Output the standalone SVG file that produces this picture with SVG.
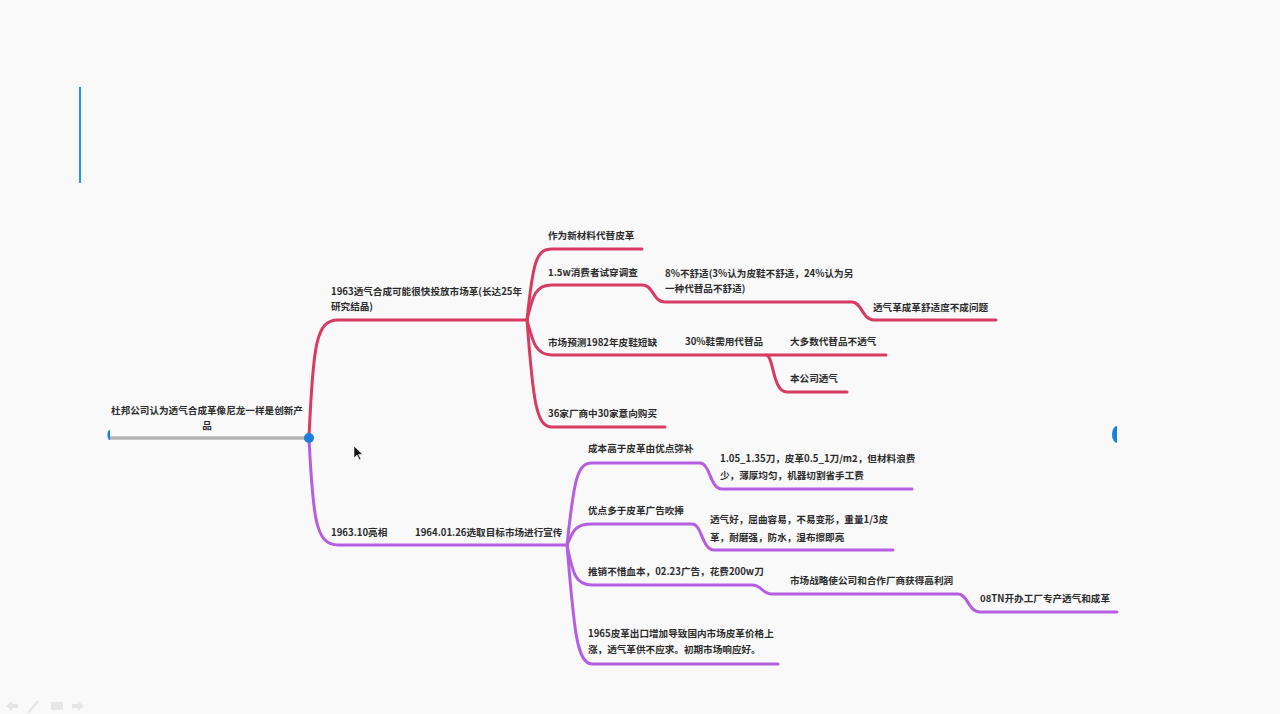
<svg xmlns="http://www.w3.org/2000/svg" width="1280" height="714" viewBox="0 0 1280 714">
<style>
text{font-family:"Noto Sans CJK SC","Noto Sans",sans-serif;font-size:9.6px;fill:#2b2b2b;font-weight:600}
.r{fill:none;stroke:#d73b62;stroke-width:3;stroke-linecap:round;stroke-linejoin:round}
.p{fill:none;stroke:#b55ee2;stroke-width:3;stroke-linecap:round;stroke-linejoin:round}
.g{fill:none;stroke:#b4b4b4;stroke-width:3.5}
.ic{fill:#e6e6e6}
</style>
<rect width="1280" height="714" fill="#f9f9f9"/>
<line x1="80" y1="87" x2="80" y2="183" stroke="#1a9be0" stroke-width="2"/>
<g id="connectors">
<path class="g" d="M110,438 L309,438"/>
<path class="r" d="M309,438 C313,345 316,320 338,320 L527,320"/>
<path class="r" d="M527,320 C533,262 536,249 552,249 L642,249"/>
<path class="r" d="M527,320 C533,294 536,285 552,285 L643,285 C653,285 653,302 665,302 L852,302 C862,302 862,320 874,320 L996,320"/>
<path class="r" d="M527,320 C533,343 536,355 552,355 L886,355"/>
<path class="r" d="M766,355 C774,355 772,392 787,392 L847,392"/>
<path class="r" d="M527,320 C533,400 536,427 552,427 L665,427"/>
<path class="p" d="M309,438 C313,520 316,545 338,545 L567,545"/>
<path class="p" d="M567,545 C574,480 577,463 592,463 L700,463 C710,463 710,489 722,489 L912,489"/>
<path class="p" d="M567,545 C573,530 576,524 592,524 L692,524 C702,524 702,550 714,550 L893,550"/>
<path class="p" d="M567,545 C573,575 576,585 592,585 L752,585 C762,585 762,594 772,594 L958,594 C968,594 968,612 980,612 L1117,612"/>
<path class="p" d="M567,545 C574,630 577,664 592,664 L778,664"/>
</g>
<g id="root">
<text x="207" y="414" text-anchor="middle">杜邦公司认为透气合成革像尼龙一样是创新产</text>
<text x="207" y="429" text-anchor="middle">品</text>
<circle cx="309" cy="438" r="5" fill="#1a7fe0"/>
<path d="M110,430 A2.5,5 0 0 0 110,440 Z" fill="#1a7fe0"/>
<path d="M1117,426 A5,8.5 0 0 0 1117,443 Z" fill="#1a7fe0"/>
</g>
<g id="n-1963-synth">
<text x="331" y="295">1963透气合成可能很快投放市场革(长达25年</text>
<text x="331" y="310">研究结晶)</text>
</g>
<g id="n-new-material"><text x="548" y="238.5">作为新材料代替皮革</text></g>
<g id="n-survey"><text x="548" y="275.5">1.5w消费者试穿调查</text></g>
<g id="n-8pct">
<text x="665" y="276.5">8%不舒适(3%认为皮鞋不舒适，24%认为另</text>
<text x="665" y="291.5">一种代替品不舒适)</text>
</g>
<g id="n-comfort"><text x="873" y="310.5">透气革成革舒适度不成问题</text></g>
<g id="n-forecast"><text x="548" y="345.5">市场预测1982年皮鞋短缺</text></g>
<g id="n-30pct"><text x="685" y="345">30%鞋需用代替品</text></g>
<g id="n-most"><text x="790" y="345">大多数代替品不透气</text></g>
<g id="n-ours"><text x="790" y="381.5">本公司透气</text></g>
<g id="n-36"><text x="548" y="416.5">36家厂商中30家意向购买</text></g>
<g id="n-196310"><text x="331" y="535.5">1963.10亮相</text></g>
<g id="n-196401"><text x="415" y="535.5">1964.01.26选取目标市场进行宣传</text></g>
<g id="n-cost"><text x="588" y="452">成本高于皮革由优点弥补</text></g>
<g id="n-price">
<text x="720" y="461.5">1.05_1.35刀，皮革0.5_1刀/m2，但材料浪费</text>
<text x="720" y="478.5">少，薄厚均匀，机器切割省手工费</text>
</g>
<g id="n-merit"><text x="588" y="514">优点多于皮革广告吹捧</text></g>
<g id="n-props">
<text x="710" y="522.5">透气好，屈曲容易，不易变形，重量1/3皮</text>
<text x="710" y="540.5">革，耐磨强，防水，湿布擦即亮</text>
</g>
<g id="n-promo"><text x="588" y="574.5">推销不惜血本，02.23广告，花费200w刀</text></g>
<g id="n-strategy"><text x="790" y="584">市场战略使公司和合作厂商获得高利润</text></g>
<g id="n-08tn"><text x="980" y="602">08TN开办工厂专产透气和成革</text></g>
<g id="n-1965">
<text x="588" y="637">1965皮革出口增加导致国内市场皮革价格上</text>
<text x="588" y="653">涨，透气革供不应求。初期市场响应好。</text>
</g>
<path d="M354,446 L354,458 L357,455 L359.5,460 L361,459.3 L358.6,454.4 L362.5,454.2 Z" fill="#111" stroke="#fff" stroke-width="0.6"/>
<g id="toolbar">
<path class="ic" d="M6,706 L12,701 L12,704 L18,704 L18,708 L12,708 L12,711 Z"/>
<path d="M29,712 L37,702" stroke="#e6e6e6" stroke-width="2.5" stroke-linecap="round"/>
<rect class="ic" x="51" y="702" width="12" height="8" rx="1"/>
<path class="ic" d="M84,706 L78,701 L78,704 L72,704 L72,708 L78,708 L78,711 Z"/>
</g>
</svg>
